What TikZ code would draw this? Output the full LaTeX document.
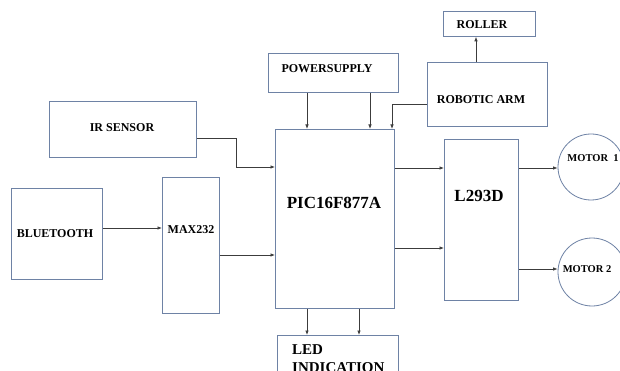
\documentclass[tikz,border=0pt]{standalone}
\usepackage{fontspec}
\setmainfont{Liberation Serif}
\usetikzlibrary{arrows.meta}
\definecolor{boxline}{RGB}{110,130,165}
\definecolor{arrline}{RGB}{60,60,60}
\tikzset{
  blk/.style={draw=boxline, line width=0.8pt, rectangle, inner sep=0pt, anchor=north west},
  mot/.style={draw=boxline, line width=0.8pt, circle, inner sep=0pt},
  lbl/.style={font=\fontsize{12}{14}\selectfont\bfseries, inner sep=0pt},
  big/.style={font=\fontsize{17}{20}\selectfont\bfseries, inner sep=0pt},
  small/.style={font=\fontsize{10.5}{12}\selectfont\bfseries, inner sep=0pt},
  arr/.style={draw=arrline, line width=0.7pt, -{Latex[length=4.5pt,width=3.5pt]}}
}
\begin{document}
\begin{tikzpicture}[x=1pt,y=-1pt]
\useasboundingbox (0,0) rectangle (620,371);
\clip (0,0) rectangle (620,371);
\fill[white] (0,0) rectangle (620,371);
% boxes
\node[blk, minimum width=92pt, minimum height=25pt] (roller) at (443,11) {};
\node[blk, minimum width=130pt, minimum height=39pt] (ps) at (268,53) {};
\node[blk, minimum width=120pt, minimum height=64pt] (arm) at (427,62) {};
\node[blk, minimum width=147pt, minimum height=56pt] (ir) at (49,101) {};
\node[blk, minimum width=119pt, minimum height=179pt] (pic) at (275,129) {};
\node[blk, minimum width=91pt, minimum height=91pt] (bt) at (11,188) {};
\node[blk, minimum width=57pt, minimum height=136pt] (max) at (162,177) {};
\node[blk, minimum width=74pt, minimum height=161pt] (l293) at (444,139) {};
\node[blk, minimum width=121pt, minimum height=70pt] (led) at (277,335) {};
\node[mot, minimum size=66pt] (m1) at (591,167) {};
\node[mot, minimum size=68pt] (m2) at (592,272) {};
% labels
\node[lbl] (troller) at (482,25) {ROLLER};
\node[lbl] (tps) at (327,69) {POWERSUPPLY};
\node[lbl] (tarm) at (481,100) {ROBOTIC ARM};
\node[lbl] (tir) at (122,128) {IR SENSOR};
\node[big] (tpic) at (334,203) {PIC16F877A};
\node[lbl] (tbt) at (55,234) {BLUETOOTH};
\node[lbl] (tmax) at (191,230) {MAX232};
\node[big] (tl293) at (479,196) {L293D};
\node[small] (tm1) at (593,158) {MOTOR\ \ 1};
\node[small] (tm2) at (587,269) {MOTOR 2};
\node[font=\fontsize{15}{18}\selectfont\bfseries, inner sep=0pt, anchor=north west, align=left] (tled) at (292,344) {LED\\INDICATION};
% connectors
\draw[arr] (arm.north -| 476,0) -- (roller.south -| 476,0);
\draw[arr] (ps.south -| 307,0) -- (pic.north -| 307,0);
\draw[arr] (ps.south -| 370,0) -- (pic.north -| 370,0);
\draw[arr] (arm.west |- 0,104) -| (pic.north -| 392,0);
\draw[arr] (ir.east |- 0,138) -- (236,138) |- (pic.west |- 0,167);
\draw[arr] (bt.east |- 0,228) -- (max.west |- 0,228);
\draw[arr] (max.east |- 0,255) -- (pic.west |- 0,255);
\draw[arr] (pic.east |- 0,168) -- (l293.west |- 0,168);
\draw[arr] (pic.east |- 0,248) -- (l293.west |- 0,248);
\draw[arr] (pic.south -| 307,0) -- (led.north -| 307,0);
\draw[arr] (pic.south -| 359,0) -- (led.north -| 359,0);
\draw[arr] (l293.east |- 0,168) -- (m1.west |- 0,168);
\draw[arr] (l293.east |- 0,269) -- (m2.west |- 0,269);
\end{tikzpicture}
\end{document}
